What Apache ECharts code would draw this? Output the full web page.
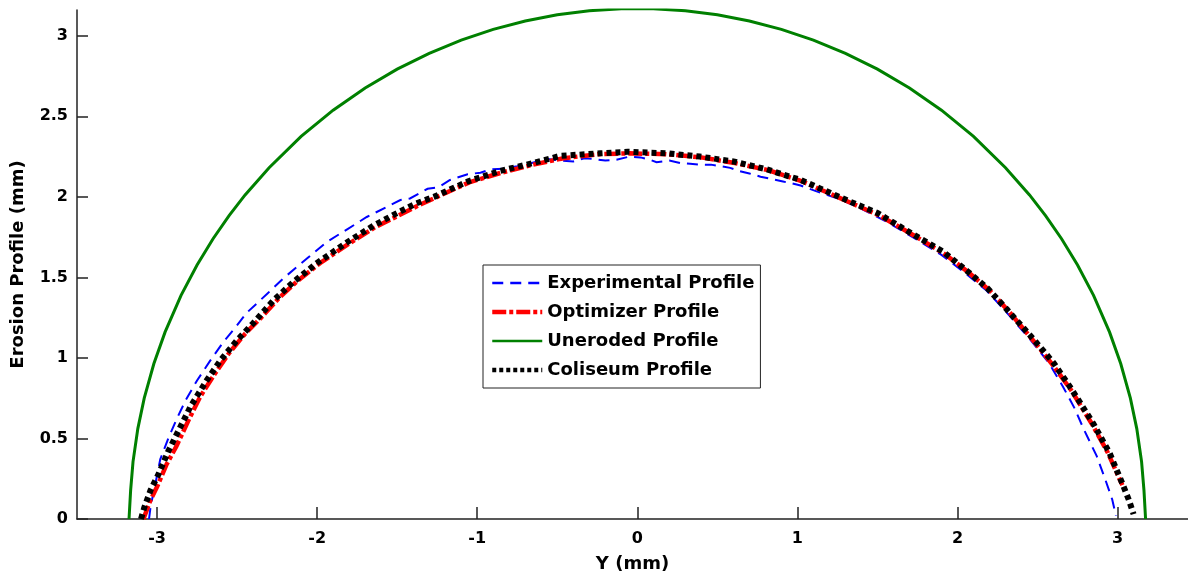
<!DOCTYPE html>
<html>
<head>
<meta charset="utf-8">
<script src="https://cdn.jsdelivr.net/npm/echarts@6/dist/echarts.min.js"></script>
<style>
  html, body { margin: 0; padding: 0; background: #fff; }
  #chart { width: 1188px; height: 573px; }
</style>
</head>
<body>
<div id="chart"></div>
<script>
// Erosion profiles across the jet footprint, [Y (mm), depth (mm)]
const experimentalProfile = [
  [-3.05, 0.0], [-3.04, 0.08], [-3.01, 0.22], [-2.98, 0.37], [-2.93, 0.50], [-2.88, 0.615],
  [-2.82, 0.74], [-2.75, 0.86], [-2.67, 0.98], [-2.585, 1.10], [-2.51, 1.19], [-2.44, 1.28],
  [-2.31, 1.40], [-2.21, 1.495], [-2.06, 1.62], [-1.94, 1.72], [-1.81, 1.80], [-1.69, 1.875],
  [-1.56, 1.94], [-1.48, 1.98], [-1.42, 1.99], [-1.31, 2.05], [-1.24, 2.06], [-1.17, 2.105],
  [-1.06, 2.14], [-0.98, 2.15], [-0.92, 2.17], [-0.83, 2.175], [-0.75, 2.19], [-0.66, 2.21],
  [-0.56, 2.235], [-0.48, 2.225], [-0.40, 2.22], [-0.33, 2.24], [-0.27, 2.235], [-0.20, 2.225],
  [-0.13, 2.23], [-0.05, 2.25], [0.02, 2.245], [0.08, 2.23], [0.12, 2.215], [0.20, 2.225],
  [0.27, 2.21], [0.33, 2.205], [0.39, 2.20], [0.46, 2.20], [0.52, 2.19], [0.58, 2.18],
  [0.64, 2.16], [0.70, 2.145], [0.77, 2.125], [0.84, 2.11], [0.91, 2.095], [0.96, 2.085],
  [1.02, 2.07], [1.09, 2.045], [1.16, 2.02], [1.27, 1.985], [1.40, 1.925], [1.55, 1.85],
  [1.72, 1.75], [1.90, 1.64], [2.05, 1.525], [2.18, 1.42], [2.30, 1.29], [2.45, 1.12],
  [2.57, 0.97], [2.66, 0.82], [2.73, 0.69], [2.79, 0.555], [2.87, 0.39], [2.925, 0.24],
  [2.967, 0.12], [2.99, 0.02]
];

const optimizerProfile = [
  [-3.085, 0.0], [-3.04, 0.12], [-3.0, 0.2], [-2.94, 0.34], [-2.88, 0.45], [-2.80, 0.62],
  [-2.73, 0.76], [-2.64, 0.90], [-2.55, 1.03], [-2.45, 1.15], [-2.35, 1.25], [-2.24, 1.37],
  [-2.12, 1.48], [-1.98, 1.59], [-1.80, 1.71], [-1.64, 1.81], [-1.50, 1.88], [-1.36, 1.95],
  [-1.25, 2.00], [-1.05, 2.09], [-0.85, 2.15], [-0.65, 2.20], [-0.46, 2.24], [-0.24, 2.265],
  [-0.05, 2.27], [0.18, 2.265], [0.40, 2.245], [0.61, 2.21], [0.82, 2.165], [1.02, 2.10],
  [1.18, 2.03], [1.34, 1.96], [1.51, 1.885], [1.72, 1.765], [1.92, 1.645], [2.07, 1.53],
  [2.20, 1.42], [2.32, 1.29], [2.48, 1.10], [2.60, 0.95], [2.71, 0.80], [2.84, 0.59],
  [2.94, 0.41], [3.03, 0.21]
];

const unerodedProfile = [
  [-3.175, 0.0], [-3.165, 0.178], [-3.15, 0.356], [-3.12, 0.561], [-3.08, 0.75], [-3.02, 0.964],
  [-2.95, 1.16], [-2.85, 1.388], [-2.75, 1.577], [-2.65, 1.74], [-2.55, 1.883], [-2.45, 2.012],
  [-2.3, 2.181], [-2.1, 2.375], [-1.9, 2.538], [-1.7, 2.676], [-1.5, 2.793], [-1.3, 2.891],
  [-1.1, 2.973], [-0.9, 3.04], [-0.7, 3.092], [-0.5, 3.13], [-0.3, 3.156], [-0.1, 3.168],
  [0.1, 3.168], [0.3, 3.156], [0.5, 3.13], [0.7, 3.092], [0.9, 3.04], [1.1, 2.973],
  [1.3, 2.891], [1.5, 2.793], [1.7, 2.676], [1.9, 2.538], [2.1, 2.375], [2.3, 2.181],
  [2.45, 2.012], [2.55, 1.883], [2.65, 1.74], [2.75, 1.577], [2.85, 1.388], [2.95, 1.16],
  [3.02, 0.964], [3.08, 0.75], [3.12, 0.561], [3.15, 0.356], [3.165, 0.178], [3.175, 0.0]
];

const coliseumProfile = [
  [-3.10, 0.0], [-3.08, 0.07], [-3.04, 0.18], [-2.99, 0.28], [-2.93, 0.42], [-2.86, 0.56],
  [-2.79, 0.70], [-2.69, 0.86], [-2.60, 0.99], [-2.50, 1.11], [-2.40, 1.215], [-2.27, 1.36],
  [-2.15, 1.47], [-2.00, 1.59], [-1.81, 1.72], [-1.65, 1.82], [-1.52, 1.89], [-1.38, 1.96],
  [-1.27, 2.00], [-1.06, 2.095], [-0.86, 2.16], [-0.65, 2.21], [-0.48, 2.255], [-0.23, 2.27],
  [-0.06, 2.28], [0.19, 2.27], [0.39, 2.25], [0.60, 2.22], [0.81, 2.17], [1.02, 2.105],
  [1.17, 2.04], [1.33, 1.97], [1.50, 1.90], [1.71, 1.775], [1.91, 1.66], [2.06, 1.54],
  [2.19, 1.43], [2.31, 1.30], [2.48, 1.11], [2.60, 0.97], [2.71, 0.81], [2.85, 0.59],
  [2.95, 0.41], [3.03, 0.22], [3.07, 0.12], [3.10, 0.03]
];

const xTicks = [-3, -2, -1, 0, 1, 2, 3];
const yTicks = [0, 0.5, 1, 1.5, 2, 2.5, 3];

const seriesNames = ['Experimental Profile', 'Optimizer Profile', 'Uneroded Profile', 'Coliseum Profile'];

const font = '"DejaVu Sans", Verdana, sans-serif';
const tickText = { color: '#000', fontFamily: font, fontWeight: 'bold', fontSize: 16 };
const nameText = { color: '#000', fontFamily: font, fontWeight: 'bold', fontSize: 18 };

const chart = echarts.init(document.getElementById('chart'), null, { renderer: 'canvas' });

function lineSeries(name, data, color, width, type) {
  return {
    name: name,
    type: 'line',
    data: data,
    symbol: 'none',
    smooth: false,
    animation: false,
    lineStyle: { color: color, width: width, type: type, cap: 'butt', join: 'miter' },
    itemStyle: { color: color }
  };
}

chart.setOption({
  backgroundColor: '#fff',
  animation: false,
  grid: { left: 77, right: 0, top: 10, bottom: 54, containLabel: false, outerBoundsMode: 'none' },
  xAxis: {
    type: 'value',
    min: -3.5,
    max: 3.44,
    name: 'Y (mm)',
    nameLocation: 'middle',
    nameGap: 36,
    nameTextStyle: nameText,
    axisLine: { onZero: false, lineStyle: { color: '#222', width: 1.5 } },
    axisTick: { inside: true, length: 12, customValues: xTicks, lineStyle: { color: '#222', width: 1.5 } },
    axisLabel: { customValues: xTicks, margin: 12, ...tickText },
    splitLine: { show: false }
  },
  yAxis: {
    type: 'value',
    min: 0,
    max: 3.16,
    name: 'Erosion Profile (mm)',
    nameLocation: 'middle',
    nameGap: 50,
    nameTextStyle: nameText,
    axisLine: { onZero: false, lineStyle: { color: '#222', width: 1.5 } },
    axisTick: { inside: true, length: 11, customValues: yTicks, lineStyle: { color: '#222', width: 1.5 } },
    axisLabel: { customValues: yTicks, margin: 9, ...tickText },
    splitLine: { show: false }
  },
  legend: {
    orient: 'vertical',
    left: 483,
    top: 265,
    padding: [8, 6, 8, 7],
    itemWidth: 50,
    itemHeight: 14,
    itemGap: 9,
    borderColor: '#222',
    borderWidth: 1,
    borderRadius: 0,
    backgroundColor: '#fff',
    itemStyle: { opacity: 0 },
    textStyle: { color: '#000', fontFamily: font, fontWeight: 'bold', fontSize: 18, lineHeight: 20 },
    data: [
      { name: seriesNames[0], lineStyle: { width: 2.5 } },
      { name: seriesNames[1], lineStyle: { width: 4.5 } },
      { name: seriesNames[2], lineStyle: { width: 2.5 } },
      { name: seriesNames[3], lineStyle: { width: 4.5, type: [4, 3] } }
    ]
  },
  series: [
    lineSeries(seriesNames[0], experimentalProfile, '#0000ff', 2, [11, 7]),
    lineSeries(seriesNames[1], optimizerProfile, '#ff0000', 4.5, [14, 3, 4, 3]),
    lineSeries(seriesNames[2], unerodedProfile, '#008000', 3, 'solid'),
    lineSeries(seriesNames[3], coliseumProfile, '#000000', 6, [5, 4])
  ]
});
</script>
</body>
</html>
